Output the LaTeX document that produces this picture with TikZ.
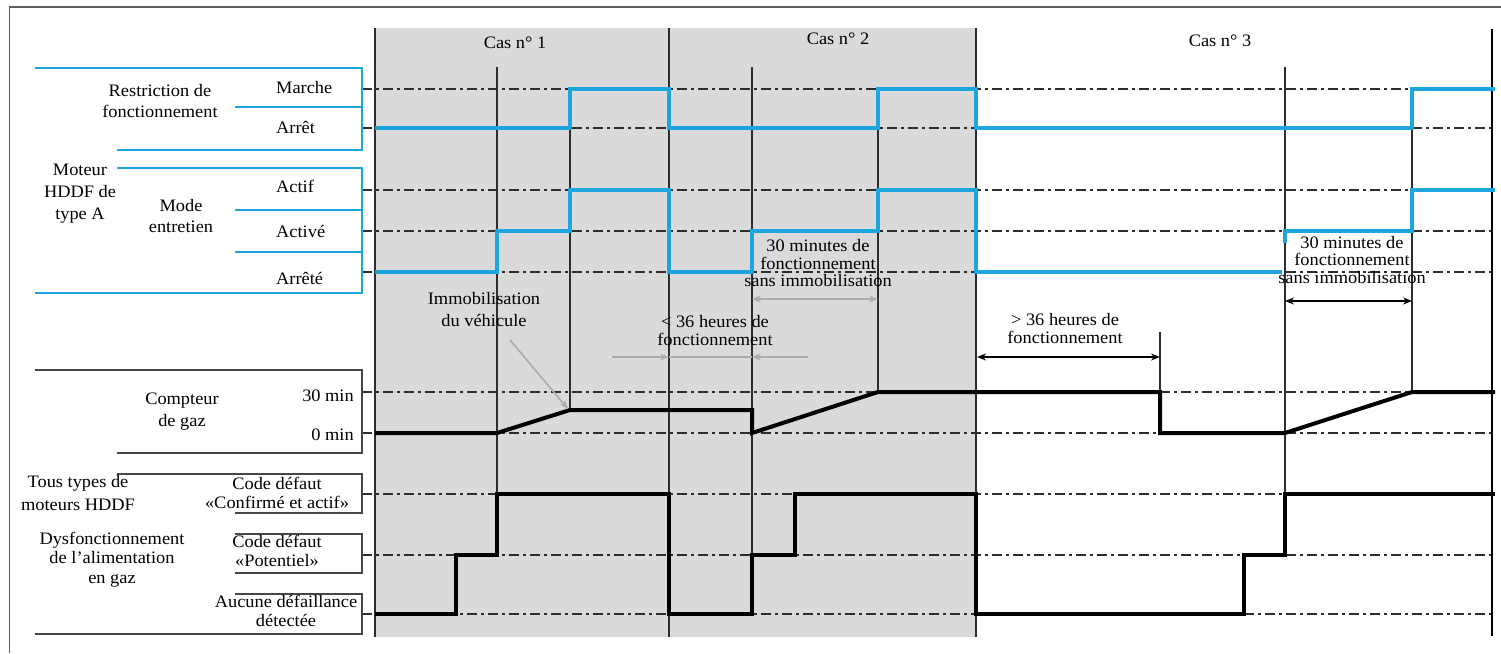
\documentclass[tikz,border=0pt]{standalone}
\usepackage{fontspec}
\setmainfont{Liberation Serif}[FakeStretch=1.05]
\usetikzlibrary{arrows.meta}
\definecolor{sigblue}{RGB}{28,166,222}
\definecolor{casegray}{RGB}{218,218,218}
\definecolor{guide}{RGB}{45,45,45}
\definecolor{arrgray}{RGB}{172,172,172}
\definecolor{framegray}{RGB}{95,95,95}
\definecolor{brk}{RGB}{70,70,70}
\begin{document}
\begin{tikzpicture}[x=1pt,y=-1pt,
  lbl/.style={font={\fontsize{17.5}{21}\selectfont}, inner sep=0pt, align=center},
  ann/.style={font={\fontsize{17.5}{17.5}\selectfont}, inner sep=0pt, align=center},
  guideline/.style={guide, line width=1.2pt, dash pattern=on 10pt off 4pt on 3pt off 4pt},
  evt/.style={draw=guide, line width=1.3pt},
  bluesig/.style={sigblue, line width=3.6pt, line join=miter},
  blacksig/.style={black, line width=4pt, line join=miter},
  bluebrk/.style={sigblue, line width=2.2pt},
  darkbrk/.style={brk, line width=1.6pt},
  grayarrow/.style={arrgray, line width=1.6pt, -{Stealth[length=9pt,width=7pt]}},
  graydouble/.style={arrgray, line width=1.6pt, {Stealth[length=9pt,width=7pt]}-{Stealth[length=9pt,width=7pt]}},
  blackdouble/.style={black, line width=1.2pt, {Stealth[length=9pt,width=7pt]}-{Stealth[length=9pt,width=7pt]}}
]
\useasboundingbox (0,0) rectangle (1501,653);
% frame
\draw[framegray, line width=1.5pt] (9.5,653) -- (9.5,7) -- (1501,7);
% shaded cases 1 and 2
\fill[casegray] (375,28) rectangle (976,637);
% guide lines
\foreach \yy in {89,128,190,231,272,392,433,494,555,614}
  \draw[guideline] (362,\yy) -- (1492,\yy);
% event lines
\draw[evt] (375,28) -- (375,637);
\draw[evt] (497,67) -- (497,555);
\draw[evt] (570,89) -- (570,410);
\draw[evt] (669,28) -- (669,637);
\draw[evt] (752,67) -- (752,555);
\draw[evt] (878,89) -- (878,392);
\draw[evt] (976,28) -- (976,637);
\draw[evt] (1160,332) -- (1160,392);
\draw[evt] (1285,67) -- (1285,494);
\draw[evt] (1412,89) -- (1412,392);
\draw[black, line width=2.6pt] (1492,29) -- (1492,636);
% left brackets (blue)
\draw[bluebrk] (35,68) -- (362,68) -- (362,150) -- (117,150);
\draw[bluebrk] (235,107) -- (362,107);
\draw[bluebrk] (117,168) -- (362,168) -- (362,293) -- (35,293);
\draw[bluebrk] (235,210) -- (362,210);
\draw[bluebrk] (235,252) -- (362,252);
% left brackets (dark)
\draw[darkbrk] (35,370) -- (362,370) -- (362,453) -- (117,453);
\draw[darkbrk] (117,474) -- (362,474) -- (362,513) -- (235,513);
\draw[darkbrk] (235,534) -- (362,534) -- (362,573) -- (235,573);
\draw[darkbrk] (235,594) -- (362,594) -- (362,634) -- (35,634);
% signals
\draw[bluesig] (375,128) -- (570,128) -- (570,89) -- (669,89) -- (669,128) -- (878,128) -- (878,89) -- (976,89) -- (976,128) -- (1412,128) -- (1412,89) -- (1495,89);
\draw[bluesig] (375,272) -- (497,272) -- (497,231) -- (570,231) -- (570,190) -- (669,190) -- (669,272) -- (752,272) -- (752,231) -- (878,231) -- (878,190) -- (976,190) -- (976,272) -- (1282,272);
\draw[bluesig] (1285,243) -- (1285,231) -- (1412,231) -- (1412,190) -- (1495,190);
\draw[blacksig] (375,433) -- (497,433) -- (570,410) -- (752,410) -- (752,433) -- (878,392) -- (1160,392) -- (1160,433) -- (1285,433) -- (1412,392) -- (1495,392);
\draw[blacksig] (375,614) -- (456,614) -- (456,555) -- (497,555) -- (497,494) -- (669,494) -- (669,614) -- (752,614) -- (752,555) -- (795,555) -- (795,494) -- (976,494) -- (976,614) -- (1244,614) -- (1244,555) -- (1285,555) -- (1285,494) -- (1495,494);
% left labels
\node[lbl] (restr) at (160,101.5) {Restriction de\\fonctionnement};
\node[lbl, anchor=base west] (marche) at (276,93) {Marche};
\node[lbl, anchor=base west] (arret) at (276,133) {Arrêt};
\node[lbl, font={\fontsize{17.5}{22}\selectfont}] (moteur) at (80,194) {Moteur\\HDDF de\\type A};
\node[lbl] (mode) at (181,216.5) {Mode\\entretien};
\node[lbl, anchor=base west] (actif) at (276,192) {Actif};
\node[lbl, anchor=base west] (active) at (276,237) {Activé};
\node[lbl, anchor=base west] (arrete) at (276,284) {Arrêté};
\node[lbl, font={\fontsize{17.5}{22}\selectfont}] (compteur) at (182,412) {Compteur\\de gaz};
\node[lbl, anchor=base east] (trente) at (354,401) {30 min};
\node[lbl, anchor=base east] (zero) at (354,440) {0 min};
\node[lbl, font={\fontsize{17.5}{23}\selectfont}] (tous) at (78,493.5) {Tous types de\\moteurs HDDF};
\node[lbl, font={\fontsize{17.5}{19.5}\selectfont}] (dysf) at (112,559.5) {Dysfonctionnement\\de l’alimentation\\en gaz};
\node[lbl, font={\fontsize{17.5}{18.5}\selectfont}] (conf) at (277,493) {Code défaut\\«Confirmé et actif»};
\node[lbl, font={\fontsize{17.5}{19}\selectfont}] (pot) at (277,550.5) {Code défaut\\«Potentiel»};
\node[lbl, font={\fontsize{17.5}{18.5}\selectfont}] (aucune) at (286,611) {Aucune défaillance\\détectée};
% case titles
\node[lbl, anchor=base] (cas1) at (515,48) {Cas n° 1};
\node[lbl, anchor=base] (cas2) at (838,44) {Cas n° 2};
\node[lbl, anchor=base] (cas3) at (1220,46) {Cas n° 3};
% annotations
\node[ann, font={\fontsize{17.5}{22}\selectfont}] (immob) at (484,310) {Immobilisation\\du véhicule};
\node[ann] (moins) at (715,330.5) {< 36 heures de\\fonctionnement};
\node[ann] (trenteA) at (818,263.5) {30 minutes de\\fonctionnement\\sans immobilisation};
\node[ann] (trenteB) at (1352,260) {30 minutes de\\fonctionnement\\sans immobilisation};
\node[ann] (plus) at (1065,328.5) {> 36 heures de\\fonctionnement};
% arrow end points
\coordinate (imS) at (510,340);
\coordinate (imE) at (568,409);
\coordinate (mA) at (612,357);
\coordinate (mB) at (669,357);
\coordinate (mC) at (752,357);
\coordinate (mD) at (808,357);
\coordinate (tA) at (752,299);
\coordinate (tB) at (878,299);
\coordinate (uA) at (1285,301);
\coordinate (uB) at (1412,301);
\coordinate (pA) at (977,357);
\coordinate (pB) at (1160,357);
\draw[grayarrow] (imS) -- (imE);
\draw[grayarrow] (mA) -- (mB);
\draw[arrgray, line width=1.6pt] (mB) -- (mC);
\draw[grayarrow] (mD) -- (mC);
\draw[graydouble] (tA) -- (tB);
\draw[blackdouble] (uA) -- (uB);
\draw[blackdouble] (pA) -- (pB);
\end{tikzpicture}
\end{document}
